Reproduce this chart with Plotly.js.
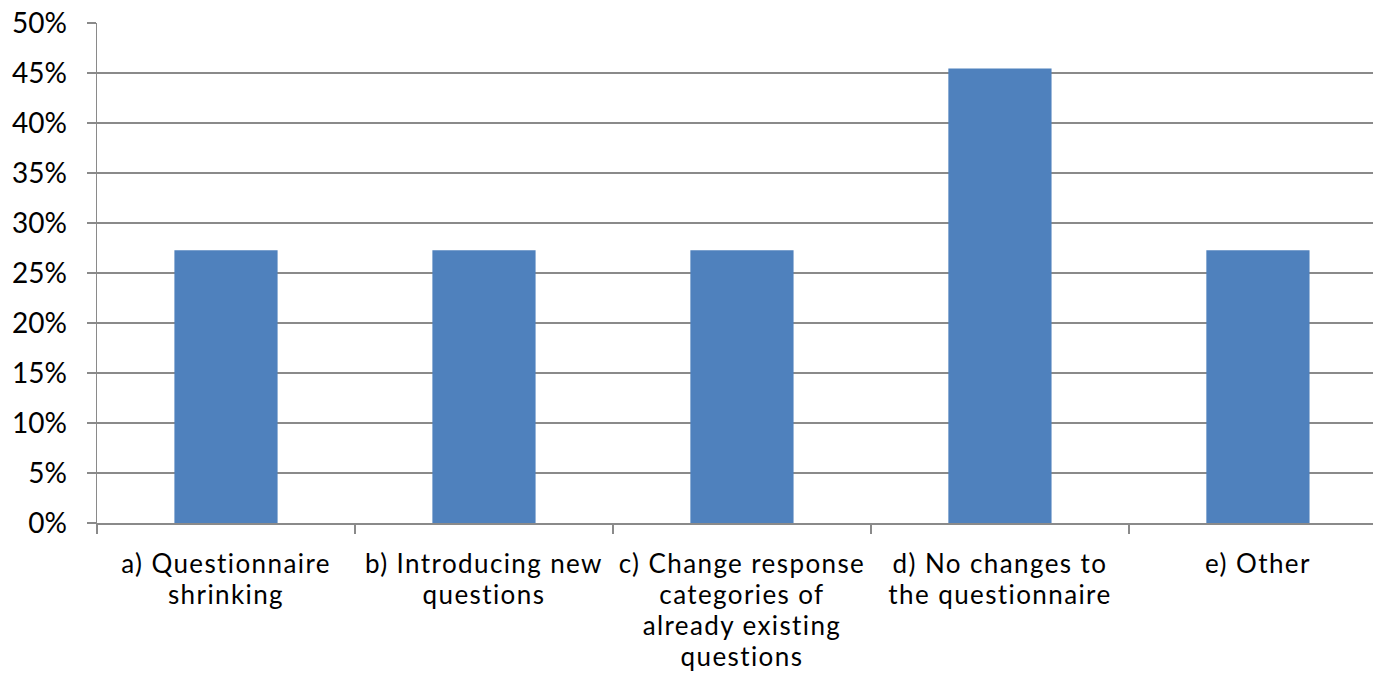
<!DOCTYPE html>
<html>
<head>
<meta charset="utf-8">
<script src="https://cdn.plot.ly/plotly-3.0.1.min.js"></script>
<style>
html,body{margin:0;padding:0;background:#fff;}
#chart{width:1373px;height:695px;}
#chart .xtick text{letter-spacing:1.4px;}
</style>
</head>
<body>
<div id="chart"></div>
<script>
var categories = [
  "a) Questionnaire<br>shrinking",
  "b) Introducing new<br>questions",
  "c) Change response<br>categories of<br>already existing<br>questions",
  "d) No changes to<br>the questionnaire",
  "e) Other"
];
var values = [0.2727, 0.2727, 0.2727, 0.4545, 0.2727];
var yTickVals = [0, 0.05, 0.10, 0.15, 0.20, 0.25, 0.30, 0.35, 0.40, 0.45, 0.50];

var trace = {
  type: 'bar',
  x: categories,
  y: values,
  marker: {color: '#4F81BD'},
  hoverinfo: 'none'
};
var layout = {
  width: 1373, height: 695,
  margin: {l: 97, r: 0, t: 23, b: 172},
  paper_bgcolor: '#fff', plot_bgcolor: '#fff',
  showlegend: false,
  bargap: 0.6,
  font: {family: 'Lato, "Liberation Sans", sans-serif', size: 24, color: '#000'},
  xaxis: {
    type: 'category',
    range: [-0.5, 4.446],
    showline: true, linecolor: '#8a8a8a', linewidth: 1.5,
    ticks: 'outside', ticklen: 9, tickcolor: '#8a8a8a', tickwidth: 1.5,
    tickson: 'boundaries',
    showgrid: false,
    ticklabelstandoff: 17,
    tickfont: {size: 26},
    fixedrange: true
  },
  yaxis: {
    range: [0, 0.5],
    tickvals: yTickVals,
    tickformat: '.0%',
    showline: true, linecolor: '#8a8a8a', linewidth: 1.5,
    ticks: 'outside', ticklen: 9, tickcolor: '#8a8a8a', tickwidth: 1.5,
    showgrid: true, gridcolor: '#8a8a8a', gridwidth: 1.5,
    zeroline: false,
    ticklabelstandoff: 14,
    tickfont: {size: 28},
    fixedrange: true
  }
};
function tightenLines() {
  var tspans = document.querySelectorAll('#chart .xtick text tspan.line');
  tspans.forEach(function (t) {
    var dy = t.getAttribute('dy');
    if (dy && dy.indexOf('em') > 0) {
      var n = parseFloat(dy) / 1.3;
      t.setAttribute('dy', (n * 1.2).toFixed(3) + 'em');
    }
  });
}
Plotly.newPlot('chart', [trace], layout, {displayModeBar: false, staticPlot: true}).then(tightenLines);
</script>
</body>
</html>
